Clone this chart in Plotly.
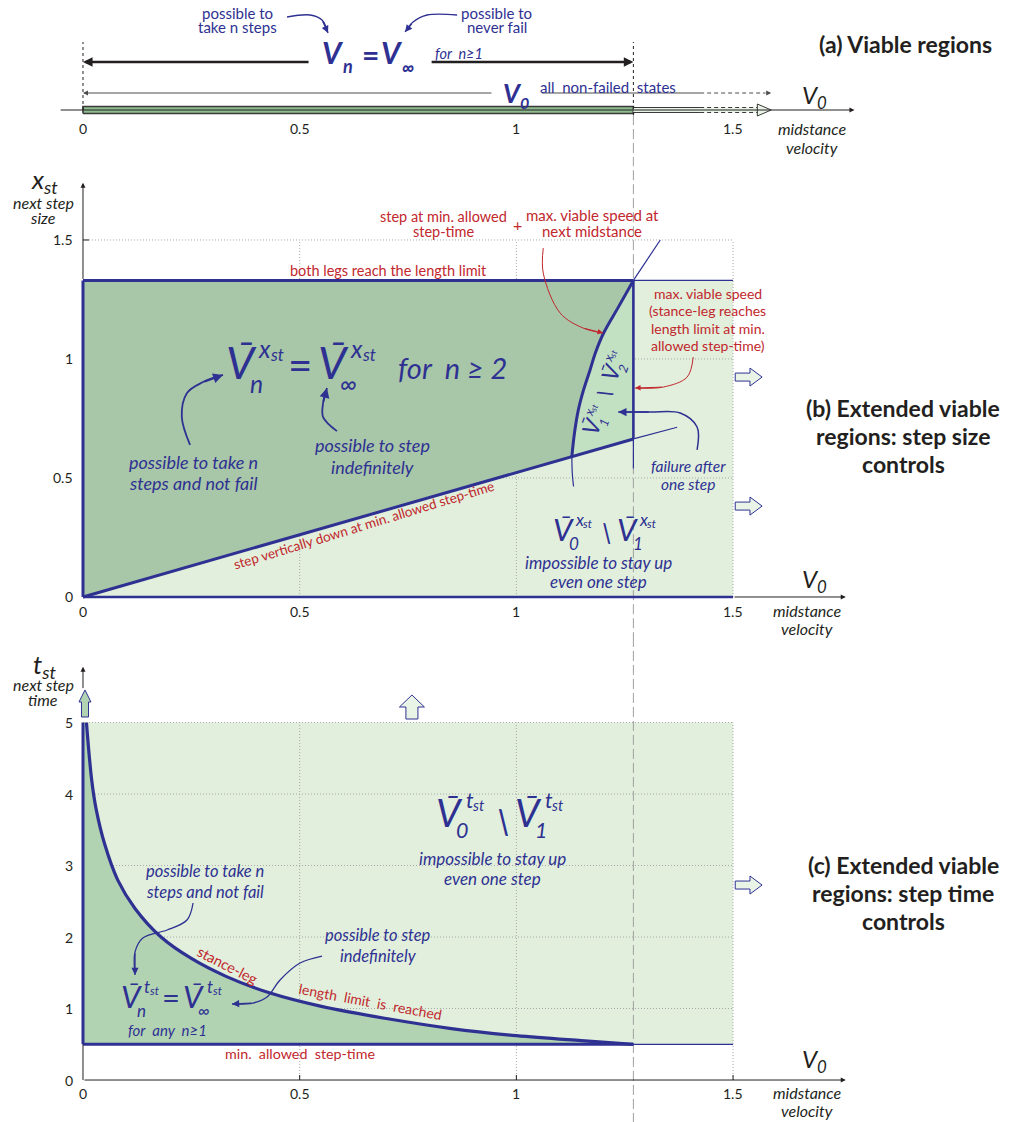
import math
import plotly.graph_objects as go

# ---------------- values shown in the chart ----------------
V_MAX = 1.27          # largest viable midstance velocity
X_LEG_LIMIT = 1.33    # step size at which both legs reach the length limit
T_MIN = 0.5           # min. allowed step-time
V_EDGE = 1.5          # extent of the shaded state space along v0
XST_GRID_TOP = 1.5
TST_EDGE = 5.0

V_TICKS = [0, 0.5, 1, 1.5]
V_TICK_TEXT = ["0", "0.5", "1", "1.5"]
XST_TICKS = [0, 0.5, 1, 1.5]
XST_TICK_TEXT = ["0", "0.5", "1", "1.5"]
TST_TICKS = [0, 1, 2, 3, 4, 5]
TST_TICK_TEXT = ["0", "1", "2", "3", "4", "5"]

# (b) step vertically down at min. allowed step-time
STEP_DOWN_V = [0.0, 1.128, 1.27, 1.371]
STEP_DOWN_X = [0.0, 0.590, 0.664, 0.713]

# (b) max. viable speed at next midstance (index 1..9 bounds the viable set)
NEXT_LIMIT_V = [1.332, 1.270, 1.236, 1.201, 1.182, 1.170, 1.155, 1.143, 1.134, 1.128, 1.129, 1.132]
NEXT_LIMIT_X = [1.500, 1.330, 1.220, 1.108, 1.024, 0.954, 0.870, 0.786, 0.688, 0.590, 0.520, 0.464]

# (c) stance-leg length limit is reached
TST_LIMIT_V = [0.008, 0.02, 0.03, 0.05, 0.08, 0.12, 0.18, 0.25, 0.33, 0.43, 0.55, 0.70, 0.85, 1.00, 1.15, 1.27]
TST_LIMIT_T = [5.0, 4.2, 3.8, 3.3, 2.8, 2.4, 2.0, 1.7, 1.45, 1.22, 1.03, 0.86, 0.72, 0.62, 0.55, 0.50]

# ---------------- styling ----------------
W, H = 1010, 1122
FONT = "Lato"
BLUE = "#2e3192"
RED = "#c1272d"
INK = "#231f20"
GRID = "#a8a8a8"
DARK_GREEN = "#a8c6a8"
MID_GREEN = "#c2e1c2"
LIGHT_GREEN = "#e1efdc"
DARK_GREEN_C = "#b1d3b2"
BAR_GREEN = "#8fbd8f"
HOLLOW = "#e9f4e6"

RED_SIZE = 14.5
TICK_SIZE = 14
TITLE_SIZE = 23
NOTE_SIZE = 16

X_RANGE = [-0.1915, 2.139]
SPLIT_AB, SPLIT_BC = 160, 640
AX = {"a": ("x", "y"), "b": ("x2", "y2"), "c": ("x3", "y3")}

fig = go.Figure()
ANN = []


def line(p, xs, ys, color=BLUE, width=3.0, dash=None, shape="linear"):
    xa, ya = AX[p]
    fig.add_trace(go.Scatter(x=xs, y=ys, xaxis=xa, yaxis=ya, mode="lines",
                             line=dict(color=color, width=width, dash=dash, shape=shape),
                             hoverinfo="skip", showlegend=False))


def area(p, xs, ys, color, outline=None, width=0.0):
    xa, ya = AX[p]
    fig.add_trace(go.Scatter(x=xs, y=ys, xaxis=xa, yaxis=ya, mode="lines", fill="toself",
                             fillcolor=color, line=dict(color=outline or color, width=width),
                             hoverinfo="skip", showlegend=False))


def text(p, x, y, s, size, color=BLUE, italic=False, bold=False, angle=0,
         xanchor="center", dx=0, dy=0):
    if italic:
        s = f"<i>{s}</i>"
    if bold:
        s = f"<b>{s}</b>"
    xa, ya = AX[p]
    ANN.append(dict(x=x, y=y, xref=xa, yref=ya, text=s, showarrow=False,
                    font=dict(family=FONT, size=size, color=color),
                    xanchor=xanchor, yanchor="middle", textangle=angle,
                    xshift=dx, yshift=dy))


def stack(p, x, y, rows, size, gap, **kw):
    n = len(rows)
    for i, r in enumerate(rows):
        text(p, x, y, r, size, dy=((n - 1) / 2 - i) * gap, **kw)


def arrow(p, x0, y0, x1, y1, color=INK, width=1.0, head=2, size=1.0):
    xa, ya = AX[p]
    ANN.append(dict(x=x1, y=y1, ax=x0, ay=y0, xref=xa, yref=ya, axref=xa, ayref=ya,
                    text="", showarrow=True, arrowhead=head, arrowsize=size,
                    arrowwidth=width, arrowcolor=color, standoff=0, startstandoff=0))


def callout(p, xs, ys, color, width=1.3, size=1.1):
    line(p, xs, ys, color, width, shape="spline")
    arrow(p, xs[-2], ys[-2], xs[-1], ys[-1], color, width, size=size)


def glyphs(p, x, y, pieces, angle=0.0, color=BLUE, italic=True, bold=False):
    th = math.radians(angle)
    for s, size, dx, dy in pieces:
        sx = dx * math.cos(th) - dy * math.sin(th)
        sy = dx * math.sin(th) + dy * math.cos(th)
        text(p, x, y, s, size, color=color, italic=italic, bold=bold,
             angle=-angle, dx=sx, dy=sy)


def vbar(s, sub, sup, dx0=0.0):
    st_dx = 0.80 if sup == "x" else 0.76
    return [("V", s, dx0, 0),
            ("\u00af", 0.9 * s, dx0 + 0.06 * s, 0.16 * s),
            (sub, 0.55 * s, dx0 + 0.34 * s, -0.47 * s),
            (sup, 0.55 * s, dx0 + 0.53 * s, 0.31 * s),
            ("st", 0.38 * s, dx0 + st_dx * s, 0.17 * s)]


def block_right(p, x0, x1, x2, yc, hs, hh, fill):
    area(p, [x0, x1, x1, x2, x1, x1, x0, x0],
         [yc - hs, yc - hs, yc - hh, yc, yc + hh, yc + hs, yc + hs, yc - hs],
         fill, outline=BLUE, width=1.0)


def block_up(p, xc, ws, wh, y0, y1, y2, fill):
    area(p, [xc - ws, xc - ws, xc - wh, xc, xc + wh, xc + ws, xc + ws, xc - ws],
         [y0, y1, y1, y2, y1, y1, y0, y0], fill, outline=BLUE, width=1.0)


# =============== (a) viable regions (y in screen pixels above the axis) ===============
arrow("a", -0.055, 0, 1.78, 0, INK, 1.0)
area("a", [0, V_MAX, V_MAX, 0, 0], [-3.5, -3.5, 3.5, 3.5, -3.5], BAR_GREEN, outline="#3a3a3a", width=1.6)
# open arrow beyond the viable speed
area("a", [V_MAX, 1.556, 1.556, V_MAX, V_MAX], [-2.5, -2.5, 2.5, 2.5, -2.5], HOLLOW)
for yy in (-2.5, 2.5):
    line("a", [V_MAX, 1.424], [yy, yy], "#3a3a3a", 1.0)
    line("a", [1.424, 1.556], [yy, yy], "#3a3a3a", 1.0, dash="4px,3px")
area("a", [1.556, 1.556, 1.588, 1.556], [-6, 6, 0, -6], HOLLOW, outline="#3a3a3a", width=1.0)
# V0 span
arrow("a", 0.946, 17, 0, 17, "#4d4d4d", 1.0)
line("a", [1.059, 1.424], [17, 17], "#4d4d4d", 1.0)
line("a", [1.424, 1.575], [17, 17], "#4d4d4d", 1.0, dash="4px,3px")
arrow("a", 1.575, 17, 1.588, 17, "#4d4d4d", 1.0)
# Vn = Vinf span
arrow("a", 0.524, 48, 0, 48, INK, 2.4, size=0.8)
arrow("a", 0.801, 48, V_MAX, 48, INK, 2.4, size=0.8)
# bounds of the viable set
line("a", [0, 0], [0, 68], INK, 1.0, dash="3px,3px")
line("a", [V_MAX, V_MAX], [-5, 68], INK, 1.0, dash="3px,3px")
line("a", [V_MAX, V_MAX], [-5, -50], "#a0a0a0", 1.0, dash="10px,4px")

stack("a", 0.3554, 90, ["possible to", "take n steps"], 15, 14)
stack("a", 0.955, 90, ["possible to", "never fail"], 15, 14)
callout("a", [0.4708, 0.5239, 0.5516, 0.5654], [93, 95, 90, 77], BLUE, 1.3)
callout("a", [0.8632, 0.7939, 0.7616, 0.7431], [95, 95, 88, 78], BLUE, 1.3)
glyphs("a", 0.577, 58, [("V", 30, 0, 0), ("n", 18, 15, -14)], bold=True)
text("a", 0.6624, 56, "=", 30, bold=True)
glyphs("a", 0.713, 58, [("V", 30, 0, 0), ("\u221e", 18, 16, -15)], bold=True)
text("a", 0.8678, 57, "for\u00a0 n\u22651", 14.5, italic=True)
glyphs("a", 0.99, 17, [("V", 26, 0, 0), ("0", 16, 12, -9)], bold=True)
text("a", 1.2116, 23, "all\u00a0 non-failed\u00a0 states", 15)
for v, lbl in zip(V_TICKS, V_TICK_TEXT):
    text("a", v, -18, lbl, TICK_SIZE, INK)
text("a", 1.689, 14, "V<sub>0</sub>", 24, INK, italic=True)
stack("a", 1.682, -27.5, ["midstance", "velocity"], NOTE_SIZE, 19, color=INK, italic=True)
text("a", 1.897, 66, "(a) Viable regions", TITLE_SIZE, INK, bold=True)

# =============== (b) extended viable regions: step size ===============
area("b", [0, V_EDGE, V_EDGE, 0, 0], [0, 0, X_LEG_LIMIT, X_LEG_LIMIT, 0], LIGHT_GREEN)
for g in XST_TICKS[1:]:
    line("b", [0, V_EDGE], [g, g], GRID, 1.0, dash="1px,2px")
for g in V_TICKS[1:]:
    line("b", [g, g], [0, XST_GRID_TOP], GRID, 1.0, dash="1px,2px")

edge_v = NEXT_LIMIT_V[1:10]
edge_x = NEXT_LIMIT_X[1:10]
area("b", edge_v + [V_MAX, V_MAX], edge_x + [STEP_DOWN_X[2], X_LEG_LIMIT], MID_GREEN)
area("b", [0, 0] + edge_v + [0], [0, X_LEG_LIMIT] + edge_x + [0], DARK_GREEN)
line("b", [V_MAX, V_MAX], [-0.19, 1.84], "#a0a0a0", 1.0, dash="10px,4px")

# thin continuations
line("b", [V_MAX, V_EDGE], [X_LEG_LIMIT, X_LEG_LIMIT], BLUE, 1.2)
line("b", STEP_DOWN_V[2:], STEP_DOWN_X[2:], BLUE, 1.2)
line("b", NEXT_LIMIT_V[:2], NEXT_LIMIT_X[:2], BLUE, 1.2)
line("b", NEXT_LIMIT_V[9:], NEXT_LIMIT_X[9:], BLUE, 1.2, shape="spline")
line("b", [V_MAX, V_MAX], [0.54, STEP_DOWN_X[2]], BLUE, 1.2)
# thick boundaries
line("b", [0, V_EDGE], [0, 0], BLUE, 2.6)
line("b", [0, 0], [0, X_LEG_LIMIT], BLUE, 3.0)
line("b", [0, V_MAX], [X_LEG_LIMIT, X_LEG_LIMIT], BLUE, 3.0)
line("b", STEP_DOWN_V[:3], STEP_DOWN_X[:3], BLUE, 3.0)
line("b", edge_v, edge_x, BLUE, 3.0, shape="spline")
line("b", [V_MAX, V_MAX], [STEP_DOWN_X[2], X_LEG_LIMIT], BLUE, 2.6)
# axes
arrow("b", 0, X_LEG_LIMIT, 0, 1.74, INK, 1.0)
arrow("b", V_EDGE, 0, 1.76, 0, INK, 1.0)
line("b", [0, 0.014], [1.5, 1.5], INK, 1.0)

block_right("b", 1.505, 1.539, 1.567, 0.924, 0.0168, 0.0378, HOLLOW)
block_right("b", 1.505, 1.539, 1.567, 0.382, 0.0168, 0.0378, HOLLOW)

callout("b", [1.062, 1.062, 1.101, 1.154, 1.200], [1.466, 1.361, 1.193, 1.130, 1.109], RED, 1.0)
callout("b", [1.408, 1.394, 1.339, 1.274], [1.008, 0.924, 0.882, 0.878], RED, 1.0)
callout("b", [1.417, 1.417, 1.378, 1.309, 1.235], [0.618, 0.714, 0.773, 0.777, 0.777], BLUE, 1.5)
callout("b", [0.247, 0.228, 0.240, 0.277, 0.323], [0.639, 0.756, 0.857, 0.903, 0.933], BLUE, 1.8)
callout("b", [0.586, 0.554, 0.554, 0.563], [0.697, 0.756, 0.815, 0.878], BLUE, 1.8)

text("b", -0.088, 1.748, "x<sub>st</sub>", 26, INK, italic=True)
stack("b", -0.092, 1.628, ["next step", "size"], NOTE_SIZE, 15, color=INK, italic=True)
for yv, lbl in zip(XST_TICKS, XST_TICK_TEXT):
    text("b", -0.018, yv, lbl, TICK_SIZE, INK, xanchor="right")
for v, lbl in zip(V_TICKS, V_TICK_TEXT):
    text("b", v, -0.059, lbl, TICK_SIZE, INK)

text("b", 0.704, 1.370, "both legs reach the length limit", RED_SIZE, RED)
stack("b", 0.831, 1.565, ["step at min. allowed", "step-time"], RED_SIZE, 15, color=RED)
text("b", 1.002, 1.567, "+", 16, RED)
stack("b", 1.175, 1.571, ["max. viable speed at", "next midstance"], 15, 16, color=RED)
stack("b", 1.442, 1.165, ["max. viable speed", "(stance-leg reaches",
                          "length limit at min.", "allowed step-time)"], 14, 17.5, color=RED)
text("b", 0.6486, 0.3025, "step vertically down at min. allowed step-time", 13.5, RED, angle=-17)

glyphs("b", 0.3646, 0.987, vbar(45, "n", "x"))
text("b", 0.5008, 0.979, "=", 42)
glyphs("b", 0.577, 0.987, vbar(45, "\u221e", "x"))
text("b", 0.8516, 0.966, "for\u00a0 n \u2265 2", 29, italic=True)
stack("b", 0.254, 0.523, ["possible to take n", "steps and not fail"], 18, 21, italic=True)
stack("b", 0.667, 0.592, ["possible to step", "indefinitely"], 18, 22, italic=True)

glyphs("b", 1.1078, 0.2857, vbar(31, "0", "x"))
text("b", 1.207, 0.273, "\\", 27, italic=True)
glyphs("b", 1.2555, 0.2857, vbar(31, "1", "x"))
stack("b", 1.1886, 0.103, ["impossible to stay up", "even one step"], 17, 19, italic=True)

glyphs("b", 1.2001, 0.857, vbar(23, "1", "x", -35) + [("\\", 21, 0, 0)] + vbar(23, "2", "x", 22),
       angle=70)
stack("b", 1.396, 0.5126, ["failure after", "one step"], 15.5, 18, italic=True)

text("b", 1.689, 0.071, "V<sub>0</sub>", 24, INK, italic=True)
stack("b", 1.671, -0.0966, ["midstance", "velocity"], NOTE_SIZE, 18, color=INK, italic=True)
stack("b", 1.8925, 0.6765, ["(b) Extended viable", "regions: step size", "controls"], TITLE_SIZE, 28,
      color=INK, bold=True)

# =============== (c) extended viable regions: step time ===============
area("c", [0, V_EDGE, V_EDGE, 0, 0], [T_MIN, T_MIN, TST_EDGE, TST_EDGE, T_MIN], LIGHT_GREEN)
for g in TST_TICKS[1:]:
    line("c", [0, V_EDGE], [g, g], GRID, 1.0, dash="1px,2px")
for g in V_TICKS[1:]:
    line("c", [g, g], [0, TST_EDGE], GRID, 1.0, dash="1px,2px")
area("c", [0, 0] + TST_LIMIT_V + [0], [T_MIN, TST_EDGE] + TST_LIMIT_T + [T_MIN], DARK_GREEN_C)
line("c", [V_MAX, V_MAX], [-0.6, 6.16], "#a0a0a0", 1.0, dash="10px,4px")

line("c", [V_MAX, V_EDGE], [T_MIN, T_MIN], BLUE, 1.2)
line("c", [0, V_MAX], [T_MIN, T_MIN], BLUE, 3.0)
line("c", [0, 0], [T_MIN, TST_EDGE], BLUE, 3.0)
line("c", TST_LIMIT_V, TST_LIMIT_T, BLUE, 3.2, shape="spline")
line("c", [0, 0], [0, T_MIN], INK, 1.0)
arrow("c", 0, 0, 1.76, 0, INK, 1.0)
arrow("c", 0, 5.46, 0, 5.78, INK, 1.0)
for v in V_TICKS[1:]:
    line("c", [v, v], [0, 0.07], INK, 1.0)

block_up("c", 0.0046, 0.0081, 0.0138, 5.077, 5.287, 5.455, DARK_GREEN_C)
block_up("c", 0.759, 0.0139, 0.0288, 5.049, 5.217, 5.385, HOLLOW)
block_right("c", 1.505, 1.539, 1.567, 2.727, 0.056, 0.126, HOLLOW)

callout("c", [0.254, 0.240, 0.194, 0.138, 0.120, 0.120], [2.476, 2.238, 2.098, 1.986, 1.790, 1.469], BLUE, 1.3)
callout("c", [0.5516, 0.5008, 0.4547, 0.4246, 0.3923, 0.3439], [1.734, 1.636, 1.399, 1.161, 1.077, 1.063], BLUE, 1.3)

text("c", -0.088, 5.80, "t<sub>st</sub>", 26, INK, italic=True)
stack("c", -0.092, 5.42, ["next step", "time"], NOTE_SIZE, 15, color=INK, italic=True)
for yv, lbl in zip(TST_TICKS, TST_TICK_TEXT):
    text("c", -0.018, yv, lbl, TICK_SIZE, INK, xanchor="right")
for v, lbl in zip(V_TICKS, V_TICK_TEXT):
    text("c", v, -0.182, lbl, TICK_SIZE, INK)

glyphs("c", 0.8447, 3.748, vbar(39, "0", "t"))
text("c", 0.9693, 3.636, "\\", 35, italic=True)
glyphs("c", 1.027, 3.748, vbar(39, "1", "t"))
stack("c", 0.946, 2.958, ["impossible to stay up", "even one step"], 17, 19.5, italic=True)
stack("c", 0.2816, 2.776, ["possible to take n", "steps and not fail"], 16.5, 21, italic=True)
stack("c", 0.6808, 1.881, ["possible to step", "indefinitely"], 16.5, 21, italic=True)
glyphs("c", 0.1108, 1.175, vbar(31, "n", "t"))
text("c", 0.203, 1.161, "=", 31)
glyphs("c", 0.256, 1.175, vbar(31, "\u221e", "t"))
text("c", 0.196, 0.699, "for\u00a0 any\u00a0 n\u22651", 15, italic=True)
text("c", 0.3346, 1.608, "stance-leg", RED_SIZE, RED, angle=27)
text("c", 0.6624, 1.105, "length\u00a0 limit\u00a0 is\u00a0 reached", 14, RED, angle=10.5)
text("c", 0.5008, 0.378, "min.\u00a0 allowed\u00a0 step-time", 14.3, RED)

text("c", 1.689, 0.28, "V<sub>0</sub>", 24, INK, italic=True)
stack("c", 1.671, -0.294, ["midstance", "velocity"], NOTE_SIZE, 18, color=INK, italic=True)
stack("c", 1.8925, 2.615, ["(c) Extended viable", "regions: step time", "controls"], TITLE_SIZE, 28,
      color=INK, bold=True)

# ---------------- layout ----------------
dom_a = [1 - SPLIT_AB / H, 1.0]
dom_b = [1 - SPLIT_BC / H, 1 - SPLIT_AB / H]
dom_c = [0.0, 1 - SPLIT_BC / H]
hidden = dict(visible=False, fixedrange=True)
fig.update_layout(
    width=W, height=H, autosize=False,
    margin=dict(l=0, r=0, t=0, b=0),
    paper_bgcolor="white", plot_bgcolor="white",
    showlegend=False, hovermode=False,
    annotations=ANN,
    xaxis=dict(domain=[0, 1], range=X_RANGE, anchor="y", **hidden),
    yaxis=dict(domain=dom_a, range=[-50, 110], anchor="x", **hidden),
    xaxis2=dict(domain=[0, 1], range=X_RANGE, anchor="y2", **hidden),
    yaxis2=dict(domain=dom_b, range=[-0.1807, 1.836], anchor="x2", **hidden),
    xaxis3=dict(domain=[0, 1], range=X_RANGE, anchor="y3", **hidden),
    yaxis3=dict(domain=dom_c, range=[-0.587, 6.154], anchor="x3", **hidden),
)

fig.write_html("out.html")
